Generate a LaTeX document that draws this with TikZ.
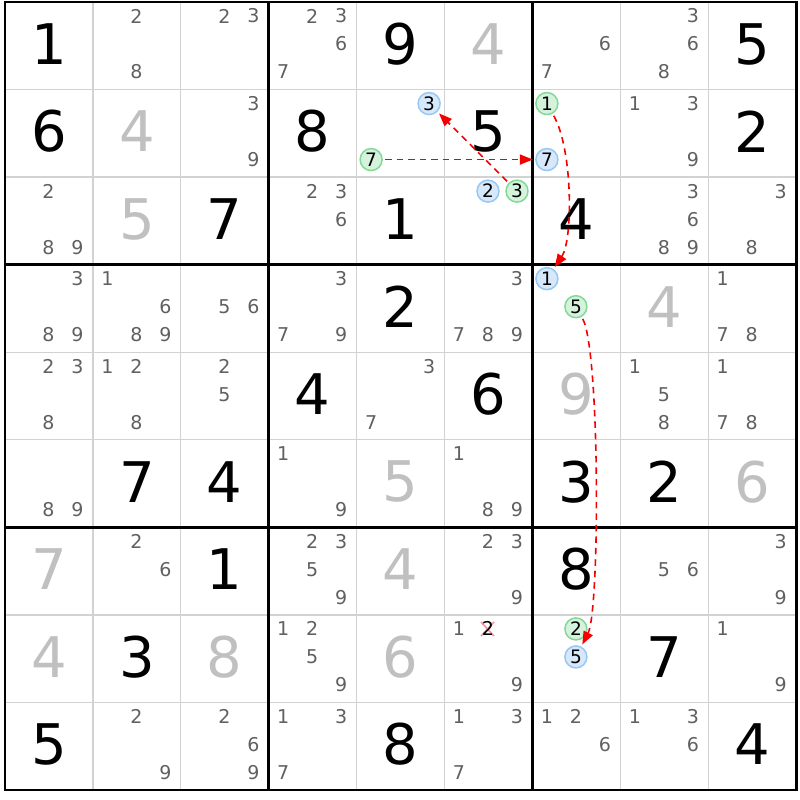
\documentclass[tikz,border=0pt]{standalone}
\usepackage{fontspec}
\setmainfont{DejaVu Sans}
\usetikzlibrary{arrows.meta}
\definecolor{candgray}{RGB}{96,96,96}
\definecolor{solvedgray}{RGB}{192,192,192}
\definecolor{thingray}{RGB}{210,210,210}
\definecolor{bluefill}{RGB}{214,232,250}
\definecolor{blueedge}{RGB}{150,200,245}
\definecolor{greenfill}{RGB}{212,242,220}
\definecolor{greenedge}{RGB}{130,218,150}
\definecolor{linkred}{RGB}{245,0,0}
\definecolor{xpink}{RGB}{244,150,160}
\newcommand\candfont{\fontsize{19}{19}\selectfont}
\newcommand\circfont{\fontsize{18.5}{18.5}\selectfont}
\newcommand\bigfont{\fontsize{56}{56}\selectfont}
\newcommand\Cands[3]{%
  \foreach \k in {#3}{%
    \pgfmathsetmacro\myx{5+87.9*#2+14.5+29*mod(\k-1,3)}%
    \pgfmathsetmacro\myy{2+87.56*#1+14+28*floor((\k-1)/3)}%
    \node[cand] (c#1#2-\k) at (\myx,\myy) {\k};
  }}
\newcommand\Given[3]{%
  \pgfmathsetmacro\myx{5+87.9*#2+44}%
  \pgfmathsetmacro\myy{2+87.56*#1+42}%
  \node[given] (g#1#2) at (\myx,\myy) {#3};}
\newcommand\Solved[3]{%
  \pgfmathsetmacro\myx{5+87.9*#2+44}%
  \pgfmathsetmacro\myy{2+87.56*#1+42}%
  \node[solved] (s#1#2) at (\myx,\myy) {#3};}
\newcommand\Hl[5]{%
  \pgfmathsetmacro\myx{5+87.9*#3+14.5+29*mod(#4-1,3)}%
  \pgfmathsetmacro\myy{2+87.56*#2+14+28*floor((#4-1)/3)}%
  \node[#1] (#5) at (\myx,\myy) {#4};}
\tikzset{
  cand/.style={font=\candfont, text=candgray, inner sep=0pt},
  given/.style={font=\bigfont, text=black, inner sep=0pt},
  solved/.style={font=\bigfont, text=solvedgray, inner sep=0pt},
  hlbase/.style={circle, line width=1.5pt, minimum size=22pt, inner sep=0pt, font=\circfont, text=black, outer sep=3pt},
  hlblue/.style={hlbase, draw=blueedge, fill=bluefill},
  hlgreen/.style={hlbase, draw=greenedge, fill=greenfill},
  link/.style={draw=linkred, line width=1.6pt, dash pattern=on 6.5pt off 5pt,
    -{Triangle[length=13pt,width=10pt,fill=linkred]}},
  thinline/.style={draw=thingray, line width=1.3pt},
  thickline/.style={draw=black, line width=2.8pt},
  elim/.style={draw=xpink, line width=1.6pt}
}
\begin{document}
\begin{tikzpicture}[x=1pt,y=-1pt]
\useasboundingbox (0,0) rectangle (800,800);
\fill[white] (0,0) rectangle (800,800);
% thin grid lines
\foreach \i in {1,2,4,5,7,8}{
  \draw[thinline] ({5+87.9*\i},2) -- ({5+87.9*\i},790);
  \draw[thinline] (5,{2+87.56*\i}) -- (796.1,{2+87.56*\i});
}
% thick lines
\foreach \i in {3,6}{
  \draw[thickline] ({5+87.9*\i},2) -- ({5+87.9*\i},790);
  \draw[thickline] (5,{2+87.56*\i}) -- (796.1,{2+87.56*\i});
}
\draw[thickline] (5,2) rectangle (796.1,790);
% row 0
\Given{0}{0}{1} \Cands{0}{1}{2,8} \Cands{0}{2}{2,3} \Cands{0}{3}{2,3,6,7}
\Given{0}{4}{9} \Solved{0}{5}{4} \Cands{0}{6}{6,7} \Cands{0}{7}{3,6,8} \Given{0}{8}{5}
% row 1
\Given{1}{0}{6} \Solved{1}{1}{4} \Cands{1}{2}{3,9} \Given{1}{3}{8}
\Hl{hlblue}{1}{4}{3}{bA} \Hl{hlgreen}{1}{4}{7}{gA}
\Given{1}{5}{5}
\Hl{hlgreen}{1}{6}{1}{gC} \Hl{hlblue}{1}{6}{7}{bB}
\Cands{1}{7}{1,3,9} \Given{1}{8}{2}
% row 2
\Cands{2}{0}{2,8,9} \Solved{2}{1}{5} \Given{2}{2}{7} \Cands{2}{3}{2,3,6} \Given{2}{4}{1}
\Hl{hlblue}{2}{5}{2}{bE} \Hl{hlgreen}{2}{5}{3}{gB}
\Given{2}{6}{4} \Cands{2}{7}{3,6,8,9} \Cands{2}{8}{3,8}
% row 3
\Cands{3}{0}{3,8,9} \Cands{3}{1}{1,6,8,9} \Cands{3}{2}{5,6} \Cands{3}{3}{3,7,9}
\Given{3}{4}{2} \Cands{3}{5}{3,7,8,9}
\Hl{hlblue}{3}{6}{1}{bC} \Hl{hlgreen}{3}{6}{5}{gD}
\Solved{3}{7}{4} \Cands{3}{8}{1,7,8}
% row 4
\Cands{4}{0}{2,3,8} \Cands{4}{1}{1,2,8} \Cands{4}{2}{2,5} \Given{4}{3}{4} \Cands{4}{4}{3,7}
\Given{4}{5}{6} \Solved{4}{6}{9} \Cands{4}{7}{1,5,8} \Cands{4}{8}{1,7,8}
% row 5
\Cands{5}{0}{8,9} \Given{5}{1}{7} \Given{5}{2}{4} \Cands{5}{3}{1,9} \Solved{5}{4}{5}
\Cands{5}{5}{1,8,9} \Given{5}{6}{3} \Given{5}{7}{2} \Solved{5}{8}{6}
% row 6
\Solved{6}{0}{7} \Cands{6}{1}{2,6} \Given{6}{2}{1} \Cands{6}{3}{2,3,5,9} \Solved{6}{4}{4}
\Cands{6}{5}{2,3,9} \Given{6}{6}{8} \Cands{6}{7}{5,6} \Cands{6}{8}{3,9}
% row 7
\Solved{7}{0}{4} \Given{7}{1}{3} \Solved{7}{2}{8} \Cands{7}{3}{1,2,5,9} \Solved{7}{4}{6}
\Cands{7}{5}{1,9}
\draw[elim] (481,622) -- (494,636) (494,622) -- (481,636);
\Hl{cand,text=black}{7}{5}{2}{xE}
\Hl{hlgreen}{7}{6}{2}{gE} \Hl{hlblue}{7}{6}{5}{bD}
\Given{7}{7}{7} \Cands{7}{8}{1,9}
% row 8
\Given{8}{0}{5} \Cands{8}{1}{2,9} \Cands{8}{2}{2,6,9} \Cands{8}{3}{1,3,7} \Given{8}{4}{8}
\Cands{8}{5}{1,3,7} \Cands{8}{6}{1,2,6} \Cands{8}{7}{1,3,6} \Given{8}{8}{4}
% links
\draw[link] (gA) -- (bB);
\draw[link] (gB) -- (bA);
\draw[link] (gC) .. controls (573,150) and (573,240) .. (bC);
\draw[link] (gD) .. controls (600,350) and (600,610) .. (bD);
\end{tikzpicture}
\end{document}
